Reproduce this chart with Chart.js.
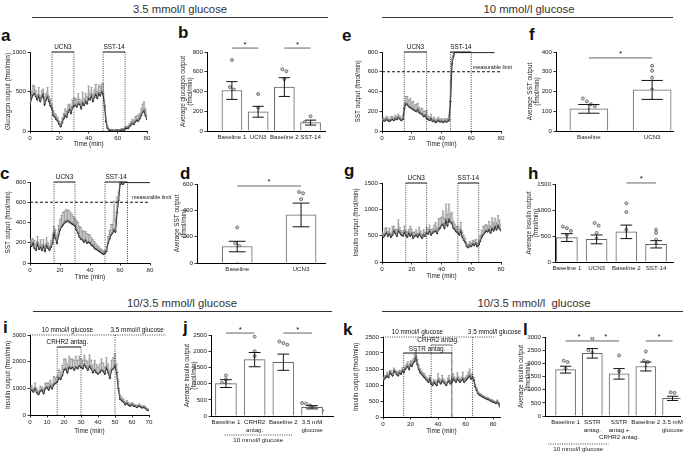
<!DOCTYPE html>
<html><head><meta charset="utf-8">
<script src="https://cdn.jsdelivr.net/npm/chart.js@4.4.1/dist/chart.umd.min.js"></script>
<style>
body{margin:0;background:#fff;width:685px;height:455px;position:relative;overflow:hidden;font-family:"Liberation Sans",Arial,sans-serif;color:#111}
canvas{position:absolute}
.h{position:absolute;font-size:11.3px;line-height:13px;white-space:nowrap;transform:translateX(-50%);font-weight:normal;color:#333}
.rule{position:absolute;height:1px;background:#333}
.lt{position:absolute;font-weight:bold;font-size:17px;line-height:17px;color:#111}
</style></head><body>
<div class="h" style="left:180px;top:3px">3.5 mmol/l glucose</div>
<div class="rule" style="left:32px;top:17px;width:296px"></div>
<div class="h" style="left:529px;top:3px">10 mmol/l glucose</div>
<div class="rule" style="left:382px;top:17px;width:291px"></div>
<div class="h" style="left:182px;top:297px">10/3.5 mmol/l glucose</div>
<div class="rule" style="left:33px;top:311px;width:299px"></div>
<div class="h" style="left:534px;top:297px">10/3.5 mmol/l&nbsp;&nbsp;glucose</div>
<div class="rule" style="left:382px;top:311px;width:301px"></div>
<div class="lt" style="left:1px;top:27px">a</div>
<div class="lt" style="left:178px;top:24px">b</div>
<div class="lt" style="left:0px;top:165px">c</div>
<div class="lt" style="left:180px;top:165px">d</div>
<div class="lt" style="left:342px;top:27px">e</div>
<div class="lt" style="left:529px;top:26px">f</div>
<div class="lt" style="left:344px;top:162px">g</div>
<div class="lt" style="left:528px;top:165px">h</div>
<div class="lt" style="left:3px;top:319px">i</div>
<div class="lt" style="left:183px;top:319px">j</div>
<div class="lt" style="left:343px;top:321px">k</div>
<div class="lt" style="left:523px;top:321px">l</div>
<script>
// ================= DATA =================
// a: glucagon output, 3.5 mmol/l glucose (t = 0..80 min)
const a_mean = [330,420,460,480,440,400,450,380,430,470,340,400,440,380,320,290,
 200,180,150,130,90,60,110,160,200,180,240,280,230,300,320,
 330,310,350,340,290,360,330,380,350,420,
 400,450,380,430,470,420,480,450,500,470,
 320,120,40,15,10,8,5,5,8,10,
 5,12,20,15,30,40,35,60,80,100,
 90,120,140,130,160,200,240,260,200,150];
const a_sem = [60,80,120,90,70,60,100,50,80,60,90,70,110,60,80,50,
 60,40,50,40,30,30,50,60,80,70,90,60,80,90,100,
 80,90,120,60,80,130,70,90,80,150,
 70,100,80,90,120,80,100,110,90,130,
 60,40,20,10,8,6,5,5,6,8,
 5,8,10,10,20,20,25,30,40,50,
 40,60,50,70,60,80,100,110,80,60];
const a_treat = [['UCN3',15,30],['SST-14',50,65]];

// b
const b_cats = [['Baseline 1'],['UCN3'],['Baseline 2'],['SST-14']];
const b_mean = [410,195,445,85];
const b_sem = [90,55,95,25];
const b_pts = [[720,445,420,300,175],[375,235,180,120,70],[625,605,525,425,100],[150,90,70,55,45]];
const b_sig = [[0,1],[2,3]];

// c: SST output, 3.5 mmol/l glucose
const c_mean = [180,170,200,150,130,200,140,160,130,170,120,180,150,130,160,200,
 300,250,200,280,330,360,380,400,410,420,410,400,390,380,370,
 330,300,260,240,230,210,230,200,210,200,
 180,170,150,140,130,120,110,100,90,100,
 120,200,240,280,300,330,310,500,620,780,
 790,780,800,800,800,800,800,800,800,800,
 800,800,800,800,800,800,800,800,800,800];
const c_sem = [50,60,40,70,50,60,40,70,50,60,40,70,50,40,60,80,
 60,80,60,90,100,110,120,110,120,100,110,100,90,80,70,
 90,100,100,110,90,100,80,90,70,80,
 70,60,60,50,40,40,30,30,30,20,
 40,60,80,100,80,280,120,150,80,20,
 10,10,0,0,0,0,0,0,0,0,
 0,0,0,0,0,0,0,0,0,0];
const c_treat = [['UCN3',16,30],['SST-14',50,65]];
const c_limit = 600;

// d
const d_cats = [['Baseline'],['UCN3']];
const d_mean = [125,365];
const d_sem = [40,90];
const d_pts = [[270,150,130,100,10],[540,530,485,95,92]];
const d_sig = [[0,1]];

// e: SST output, 10 mmol/l glucose (t = 0..75 min)
const e_mean = [100,110,105,120,110,100,115,120,110,130,120,140,125,110,120,
 230,280,270,250,240,230,220,210,200,220,190,180,170,150,160,130,
 120,110,130,100,110,90,100,110,95,100,90,100,95,100,110,
 300,680,760,
 800,800,800,800,800,800,800,800,800,800,800,800,800,800,800,800,800,800,800,800,800,800,800,800,800,800,800];
const e_sem = [20,25,20,30,25,20,30,25,20,30,25,30,25,20,25,
 40,70,80,60,90,60,80,50,70,60,50,40,60,50,40,80,
 30,30,40,20,30,20,25,30,20,25,20,25,20,25,30,
 200,60,30,
 0,0,0,0,0,0,0,0,0,0,0,0,0,0,0,0,0,0,0,0,0,0,0,0,0,0,0];
const e_treat = [['UCN3',15,30],['SST-14',46,60]];
const e_limit = 600;

// f
const f_cats = [['Baseline'],['UCN3']];
const f_mean = [112,208];
const f_sem = [22,48];
const f_pts = [[165,150,135,125,75,50],[330,305,270,210,75,60]];
const f_sig = [[0,1]];

// g: insulin output, 10 mmol/l glucose
const g_mean = [500,480,520,560,500,540,480,520,600,550,500,600,560,520,500,580,
 520,480,560,500,540,460,500,520,480,540,500,460,520,500,560,
 540,600,520,560,580,600,550,620,650,700,
 720,650,800,700,820,760,740,650,620,580,
 560,520,600,480,420,380,300,280,320,300,
 350,320,360,300,330,400,480,520,560,600,
 580,620,560,640,600,680,620,700,640,600];
const g_sem = [80,60,120,90,70,100,60,150,80,70,110,200,90,80,60,100,
 70,90,60,180,80,100,70,90,60,120,80,70,90,60,100,
 80,100,90,70,120,150,100,200,180,150,
 250,180,300,200,280,150,200,120,100,90,
 120,100,150,90,80,70,60,50,70,60,
 60,80,70,60,90,100,120,150,130,110,
 100,150,120,200,140,150,120,180,150,100];
const g_treat = [['UCN3',16,30],['SST-14',51,65]];

// h
const h_cats = [['Baseline 1'],['UCN3'],['Baseline 2'],['SST-14']];
const h_mean = [470,435,580,340];
const h_sem = [75,85,130,70];
const h_pts = [[680,650,600,520,240,200],[750,700,560,450,340,250,150],[1130,960,620,450,350,250],[620,560,430,340,250,180,100]];
const h_sig = [[2,3]];

// i: insulin output, 10 -> 3.5 mmol/l glucose (t = 0..70 min)
const i_mean = [900,950,880,1000,850,780,900,950,820,1000,1050,950,1100,1000,1150,1200,
 1250,1400,1350,1500,1700,1750,1600,1800,1750,1800,1700,1800,1750,1850,1800,
 1750,1900,1800,1700,1850,1750,1600,1700,1600,1550,
 1600,1700,1650,1550,1800,1600,1400,1700,1750,1850,
 1600,1000,600,550,500,400,450,380,350,400,
 350,330,300,350,320,280,300,250,200,180];
const i_sem = [100,150,120,200,150,120,180,100,150,200,150,250,200,150,300,200,
 200,300,250,350,400,350,300,400,350,300,350,400,300,350,300,
 300,350,250,300,400,300,250,350,300,250,
 300,400,300,250,350,300,250,350,400,450,
 300,250,150,120,100,80,100,80,60,70,
 60,50,40,60,50,40,50,40,30,30];
const i_cond = [['10 mmol/l glucose',0,50],['3.5 mmol/l glucose',50,80]];
const i_treat = [['CRHR2 antag.',16,30,2550]];

// j
const j_cats = [['Baseline 1'],['CRHR2','antag.'],['Baseline 2'],['3.5 mM','glucose']];
const j_mean = [1000,1740,1660,270];
const j_sem = [120,220,250,50];
const j_pts = [[1250,1130,1020,990,950,660],[2450,2000,1850,1650,1580,1480],[2300,2250,2200,1550,1200,1150],[400,380,330,270,220,170]];
const j_sig = [[0,1],[2,3]];

// k: insulin output, 10 -> 3.5 mmol/l glucose (t = 0..85 min)
const k_mean = [1150,1200,1250,1300,1250,1400,1350,1300,1450,1400,1350,1300,1400,1350,1450,1400,
 1500,1550,1600,1500,1650,1600,1700,1750,1900,1650,1500,1400,1350,1300,1250,
 1200,1150,1100,1200,1050,1000,1100,1050,1000,1150,
 1100,1050,1150,1100,1050,1000,1100,1150,1050,1100,
 1200,1150,1100,1200,1150,1100,1150,1200,1100,1150,
 1200,1250,1300,1200,1250,1150,950,850,750,700,
 680,650,620,600,580,560,550,520,500,480,
 460,440,480,420,330];
const k_sem = [60,80,50,100,70,60,90,50,80,60,70,100,60,80,90,70,
 80,100,120,90,100,150,120,200,180,150,120,100,90,80,100,
 80,70,90,100,70,60,80,70,90,200,
 100,80,150,90,80,70,100,150,80,120,
 150,100,80,180,100,80,90,200,100,90,
 100,150,200,120,100,80,60,50,40,40,
 40,30,40,30,30,40,30,30,40,30,
 30,40,50,40,30];
const k_cond = [['10 mmol/l glucose',0,65],['3.5 mmol/l glucose',65,81]];
const k_treat = [['SSTR antag.',15,50,2000],['CRHR2 antag.',35,50,2250]];

// l
const l_cats = [['Baseline 1'],['SSTR','antag.'],['SSTR','antag.+','CRHR2 antag.'],['Baseline 2'],['3.5 mM','glucose']];
const l_mean = [1760,2380,1600,1880,670];
const l_sem = [130,180,200,170,80];
const l_pts = [[2100,2050,1800,1650,1580],[2950,2500,2400,2300,2050],[2300,1700,1500,1400,1100],[2450,2100,2050,1850,1500],[900,880,620,580,550]];
const l_sig = [[0,1],[1,2],[3,4]];

// ================= RENDER =================
const FONT = '"Liberation Sans", Arial, sans-serif';
Chart.defaults.font.family = FONT;
Chart.defaults.font.size = 6.2;
Chart.defaults.color = '#222';
Chart.defaults.animation = false;

function place(area, yW, xH, padT, padR, cfg) {
  const c = document.createElement('canvas');
  const left = area.l - yW, top = area.t - padT;
  const w = area.r + padR - left, h = area.b + xH - top;
  c.width = w; c.height = h;
  c.style.left = left + 'px'; c.style.top = top + 'px';
  c.style.width = w + 'px'; c.style.height = h + 'px';
  document.body.appendChild(c);
  cfg.options.responsive = false;
  cfg.options.maintainAspectRatio = false;
  cfg.options.devicePixelRatio = 1;
  cfg.options.animation = false;
  cfg.options.layout = {padding: {top: padT, right: padR, left: 0, bottom: 0}};
  cfg.options.plugins = {legend: {display: false}, tooltip: {enabled: false}};
  cfg.options.scales.x.afterFit = s => { s.height = xH; };
  cfg.options.scales.y.afterFit = s => { s.width = yW; };
  return new Chart(c, cfg);
}

const axisGrid = {drawOnChartArea: false, tickLength: 2.5, color: '#000', lineWidth: 0.8};
const axisBorder = {color: '#000', width: 1};
const plain = v => String(v);

function line(ctx, x1, y1, x2, y2) { ctx.beginPath(); ctx.moveTo(x1, y1); ctx.lineTo(x2, y2); ctx.stroke(); }

function tsPanel(o) {
  const up = o.mean.map((v, i) => ({x: i, y: v + o.sem[i]}));
  const mn = o.mean.map((v, i) => ({x: i, y: v}));
  const cfg = {
    type: 'line',
    data: {datasets: [
      {data: up, borderColor: 'rgba(150,150,150,0.6)', borderWidth: 0.5, pointRadius: 0, fill: '+1', backgroundColor: 'rgba(200,200,200,0.5)', tension: 0},
      {data: mn, borderColor: '#111', borderWidth: 1.25, pointRadius: 0.9, pointBackgroundColor: '#333', pointBorderColor: '#111', pointBorderWidth: 0.4, fill: false, tension: 0}
    ]},
    options: {scales: {
      x: {type: 'linear', min: 0, max: o.xmax, ticks: {stepSize: o.xstep, includeBounds: false, padding: 1, maxRotation: 0, autoSkip: false, callback: plain},
          grid: axisGrid, border: axisBorder, title: {display: true, text: 'Time (min)', padding: 0, font: {size: 6.4}}},
      y: {min: 0, max: o.ymax, ticks: {stepSize: o.ystep, padding: 1.5, callback: plain}, grid: axisGrid, border: axisBorder,
          title: {display: true, text: o.ytitle, padding: 0, font: {size: 6.4}}}
    }},
    plugins: [{
      id: 'ts',
      afterDatasetDraw(chart, args) {
        if (args.index !== 0) return;
        const {ctx, chartArea: ca, scales: {x, y}} = chart;
        ctx.save();
        ctx.beginPath(); ctx.rect(ca.left, ca.top - 1, ca.right - ca.left, ca.bottom - ca.top + 1); ctx.clip();
        ctx.strokeStyle = '#888'; ctx.lineWidth = 0.7;
        o.mean.forEach((v, i) => {
          if (!o.sem[i]) return;
          const px = x.getPixelForValue(i), y0 = y.getPixelForValue(v), y1 = y.getPixelForValue(v + o.sem[i]);
          line(ctx, px, y0, px, y1); line(ctx, px - 1.2, y1, px + 1.2, y1);
        });
        ctx.restore();
      },
      afterDraw(chart) {
        const {ctx, scales: {x, y}} = chart;
        ctx.save();
        ctx.font = '6.4px ' + FONT; ctx.fillStyle = '#111'; ctx.strokeStyle = '#111';
        const y0 = y.getPixelForValue(0);
        if (o.limit !== undefined) {
          const yl = y.getPixelForValue(o.limit);
          ctx.lineWidth = 1; ctx.setLineDash([3, 2]);
          line(ctx, x.left, yl, x.right, yl);
          ctx.setLineDash([]);
          ctx.font = '5.4px ' + FONT;
          ctx.textAlign = 'left'; ctx.textBaseline = 'alphabetic';
          ctx.fillText('measurable limit', x.getPixelForValue(o.limitAt), yl - 3);
          ctx.font = '6.4px ' + FONT;
        }
        if (o.cond) {
          const yt = y.getPixelForValue(o.ymax);
          ctx.lineWidth = 0.8; ctx.setLineDash([1, 1.3]);
          line(ctx, x.left, yt, x.getPixelForValue(o.cond[o.cond.length - 1][2]), yt);
          o.cond.forEach((c, k) => { if (k > 0) line(ctx, x.getPixelForValue(c[1]), yt, x.getPixelForValue(c[1]), y0); });
          ctx.setLineDash([]);
          ctx.textAlign = 'center'; ctx.textBaseline = 'alphabetic';
          o.cond.forEach((c, k) => ctx.fillText(c[0], x.getPixelForValue(o.condAt[k]), yt - 3));
        }
        o.treat.forEach((t, k) => {
          const lev = t[3] !== undefined ? t[3] : o.ymax;
          const yb = y.getPixelForValue(lev);
          const x0 = x.getPixelForValue(t[1]), x1 = x.getPixelForValue(t[2]);
          ctx.lineWidth = 0.8; ctx.setLineDash([1, 1.3]); ctx.strokeStyle = '#111';
          line(ctx, x0, yb, x0, y0); line(ctx, x1, yb, x1, y0);
          ctx.setLineDash([]);
          ctx.lineWidth = (o.treatW && o.treatW[k]) || 1;
          ctx.strokeStyle = (o.treatC && o.treatC[k]) || '#111';
          line(ctx, x0, yb, x1, yb);
          ctx.textAlign = 'center'; ctx.textBaseline = 'alphabetic';
          const lx = o.treatAt ? x.getPixelForValue(o.treatAt[k]) : (x0 + x1) / 2;
          ctx.fillText(t[0], lx, yb - (o.treatDy ? o.treatDy[k] : 3));
        });
        ctx.restore();
      }
    }]
  };
  return place(o.area, o.yW, o.xH, o.padT, o.padR, cfg);
}

function jitter(vals, thr, spPx, ppu) {
  const idx = vals.map((v, i) => i).sort((p, q) => vals[q] - vals[p]);
  const off = new Array(vals.length).fill(0);
  let cl = [idx[0]];
  const flush = () => { const n = cl.length; cl.forEach((k, j) => { off[k] = (j - (n - 1) / 2) * spPx / ppu; }); };
  for (let k = 1; k < idx.length; k++) {
    if (vals[cl[cl.length - 1]] - vals[idx[k]] < thr) cl.push(idx[k]); else { flush(); cl = [idx[k]]; }
  }
  flush();
  return off;
}

function barPanel(o) {
  const ppu = (o.area.r - o.area.l) / (o.xmax - o.xmin);
  const pts = [];
  o.pts.forEach((g, i) => { const off = jitter(g, o.ymax * 0.04, 4, ppu); g.forEach((v, k) => pts.push({x: i + off[k], y: v})); });
  const cfg = {
    type: 'bar',
    data: {datasets: [
      {type: 'bar', data: o.mean.map((v, i) => ({x: i, y: v})), backgroundColor: '#fff', borderColor: '#666', borderWidth: 1, barThickness: o.thick},
      {type: 'scatter', data: pts, pointRadius: 1.5, pointBorderWidth: 0.7, pointBorderColor: '#444', pointBackgroundColor: '#d5d5d5'}
    ]},
    options: {scales: {
      x: {type: 'linear', min: o.xmin, max: o.xmax, offset: false, ticks: {display: false}, grid: {display: false}, border: axisBorder},
      y: {min: 0, max: o.ymax, ticks: {stepSize: o.ystep, padding: 1.5, callback: plain}, grid: axisGrid, border: axisBorder,
          title: {display: true, text: o.ytitle, padding: 0, font: {size: 6.4}}}
    }},
    plugins: [{
      id: 'bp',
      afterDatasetDraw(chart, args) {
        if (args.index !== 0) return;
        const {ctx, scales: {x, y}} = chart;
        ctx.save(); ctx.strokeStyle = '#111'; ctx.lineWidth = 1;
        const cw = o.thick * 0.28;
        o.mean.forEach((v, i) => {
          const px = x.getPixelForValue(i), yt = y.getPixelForValue(v + o.sem[i]), yb = y.getPixelForValue(v - o.sem[i]);
          line(ctx, px, yt, px, yb); line(ctx, px - cw, yt, px + cw, yt); line(ctx, px - cw, yb, px + cw, yb);
        });
        ctx.restore();
      },
      afterDraw(chart) {
        const {ctx, scales: {x, y}} = chart;
        ctx.save();
        ctx.fillStyle = '#222'; ctx.font = '6.2px ' + FONT; ctx.textAlign = 'center'; ctx.textBaseline = 'top';
        const yb = y.getPixelForValue(0);
        o.cats.forEach((c, i) => c.forEach((s, k) => ctx.fillText(s, x.getPixelForValue(i), yb + 3.5 + k * 7.2)));
        const ys = y.getPixelForValue(o.sigLevel);
        ctx.strokeStyle = '#555'; ctx.lineWidth = 0.9;
        o.sig.forEach(([p, q]) => {
          const x0 = x.getPixelForValue(p), x1 = x.getPixelForValue(q);
          line(ctx, x0, ys, x1, ys);
          ctx.font = '8px ' + FONT; ctx.textBaseline = 'alphabetic'; ctx.fillStyle = '#111';
          ctx.fillText('*', (x0 + x1) / 2, ys - 1.5);
        });
        if (o.bracket) {
          const by = yb + o.bracket.dy;
          ctx.strokeStyle = '#111'; ctx.lineWidth = 0.8; ctx.setLineDash([1, 1.3]);
          const bx0 = x.getPixelForValue(o.bracket.from), bx1 = x.getPixelForValue(o.bracket.to);
          line(ctx, bx0, by, bx1, by); ctx.setLineDash([]);
          ctx.font = '6.2px ' + FONT; ctx.textBaseline = 'top'; ctx.fillStyle = '#222';
          ctx.fillText(o.bracket.text, (bx0 + bx1) / 2, by + 2);
        }
        ctx.restore();
      }
    }]
  };
  return place(o.area, o.yW, o.xH, o.padT, o.padR, cfg);
}

// ---- panels ----
tsPanel({area: {l: 30, t: 52, r: 147, b: 131}, yW: 26, xH: 17, padT: 16, padR: 10,
  mean: a_mean, sem: a_sem, xmax: 80, xstep: 20, ymax: 1000, ystep: 500, ytitle: 'Glucagon output (fmol/min)', treat: a_treat});
barPanel({area: {l: 207, t: 52, r: 325, b: 131}, yW: 28, xH: 14, padT: 16, padR: 6, xmin: -0.95, xmax: 3.55, thick: 20,
  cats: b_cats, mean: b_mean, sem: b_sem, pts: b_pts, sig: b_sig, sigLevel: 840, ymax: 800, ystep: 200, ytitle: ['Average glucagon output', '(fmol/min)']});
tsPanel({area: {l: 30, t: 182, r: 150, b: 263}, yW: 26, xH: 18, padT: 16, padR: 40,
  mean: c_mean, sem: c_sem, xmax: 80, xstep: 20, ymax: 800, ystep: 200, ytitle: 'SST output (fmol/min)', treat: c_treat, limit: c_limit, limitAt: 68});
barPanel({area: {l: 197, t: 184, r: 325, b: 263}, yW: 24, xH: 12, padT: 16, padR: 6, xmin: -0.63, xmax: 1.375, thick: 30,
  cats: d_cats, mean: d_mean, sem: d_sem, pts: d_pts, sig: d_sig, sigLevel: 585, ymax: 600, ystep: 200, ytitle: ['Average SST output', '(fmol/min)']});
tsPanel({area: {l: 382, t: 52, r: 501, b: 131}, yW: 28, xH: 17, padT: 16, padR: 30,
  mean: e_mean, sem: e_sem, xmax: 80, xstep: 20, ymax: 800, ystep: 200, ytitle: 'SST output (fmol/min)', treat: e_treat, limit: e_limit, limitAt: 61});
barPanel({area: {l: 556, t: 52, r: 673, b: 131}, yW: 30, xH: 14, padT: 16, padR: 8, xmin: -0.52, xmax: 1.33, thick: 38,
  cats: f_cats, mean: f_mean, sem: f_sem, pts: f_pts, sig: f_sig, sigLevel: 370, ymax: 400, ystep: 100, ytitle: ['Average SST output', '(fmol/min)']});
tsPanel({area: {l: 382, t: 183, r: 501, b: 262}, yW: 30, xH: 18, padT: 16, padR: 8,
  mean: g_mean, sem: g_sem, xmax: 80, xstep: 20, ymax: 1500, ystep: 500, ytitle: 'Insulin output (fmol/min)', treat: g_treat});
barPanel({area: {l: 555, t: 184, r: 673, b: 262}, yW: 30, xH: 12, padT: 16, padR: 8, xmin: -0.4, xmax: 3.57, thick: 21,
  cats: h_cats, mean: h_mean, sem: h_sem, pts: h_pts, sig: h_sig, sigLevel: 1520, ymax: 1500, ystep: 500, ytitle: ['Average insulin output', '(fmol/min)']});
tsPanel({area: {l: 30, t: 335, r: 149, b: 415}, yW: 26, xH: 20, padT: 16, padR: 22,
  mean: i_mean, sem: i_sem, xmax: 70, xstep: 10, ymax: 3000, ystep: 1000, ytitle: 'Insulin output (fmol/min)',
  cond: i_cond, condAt: [22, 63], treat: i_treat, treatAt: [22]});
barPanel({area: {l: 211, t: 335, r: 333, b: 416}, yW: 28, xH: 32, padT: 16, padR: 6, xmin: -0.52, xmax: 3.73, thick: 21,
  cats: j_cats, mean: j_mean, sem: j_sem, pts: j_pts, sig: j_sig, sigLevel: 2560, ymax: 2500, ystep: 500, ytitle: ['Average insulin output', '(fmol/min)'],
  bracket: {from: -0.05, to: 2.3, dy: 19, text: '10 mmol/l glucose'}});
tsPanel({area: {l: 383, t: 337, r: 500, b: 417}, yW: 31, xH: 18, padT: 16, padR: 25,
  mean: k_mean, sem: k_sem, xmax: 85, xstep: 20, ymax: 2500, ystep: 500, ytitle: 'Insulin output (fmol/min)',
  cond: k_cond, condAt: [25, 81], treat: k_treat, treatAt: [32, 40], treatDy: [2.5, 3], treatC: ['#111', '#888'], treatW: [1, 1.2]});
barPanel({area: {l: 545, t: 337, r: 684, b: 416}, yW: 28, xH: 38, padT: 16, padR: 1, xmin: -0.77, xmax: 4.29, thick: 20,
  cats: l_cats, mean: l_mean, sem: l_sem, pts: l_pts, sig: l_sig, sigLevel: 2850, ymax: 3000, ystep: 500, ytitle: ['Average insulin output', '(fmol/min)'],
  bracket: {from: -0.65, to: 1.6, dy: 28, text: '10 mmol/l glucose'}});
</script>
</body></html>
